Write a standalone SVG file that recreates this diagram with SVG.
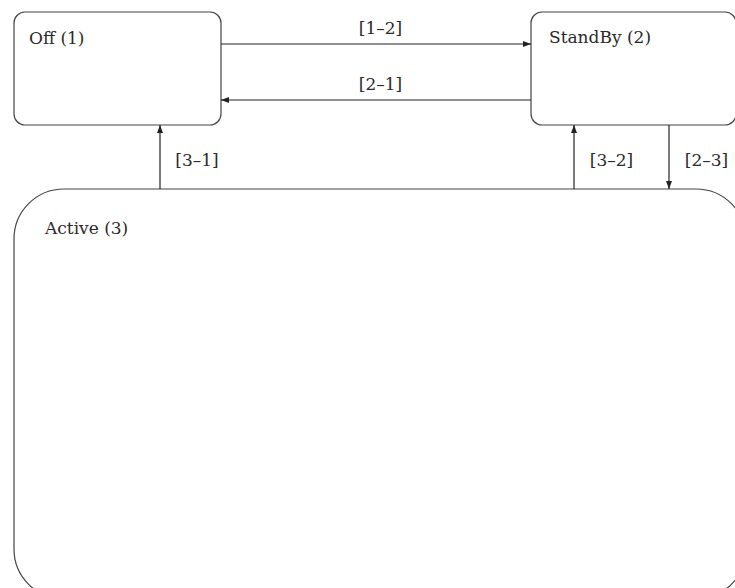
<svg xmlns="http://www.w3.org/2000/svg" width="735" height="588" viewBox="0 0 735 588">
<defs>
<style>
.node{fill:#fff;stroke:#444;stroke-width:1.2}
.lbl{font-family:"DejaVu Serif","Liberation Serif",serif;font-size:17px;fill:#2a2a2a}
.edge{stroke:#222;stroke-width:1.2;fill:none;marker-end:url(#ah)}
</style>
<marker id="ah" viewBox="0 0 8 6" refX="8" refY="3" markerWidth="8" markerHeight="6" markerUnits="userSpaceOnUse" orient="auto">
<path d="M0,0 L8,3 L0,6 z" fill="#222"/>
</marker>
</defs>
<rect width="735" height="588" fill="#fff"/>
<g id="active">
<rect class="node" x="14" y="189" width="732" height="410" rx="50" ry="50"/>
<text class="lbl" x="45" y="234">Active (3)</text>
</g>
<g id="off">
<rect class="node" x="14" y="12" width="207" height="113" rx="11" ry="11"/>
<text class="lbl" x="29" y="44">Off (1)</text>
</g>
<g id="standby">
<rect class="node" x="531" y="12" width="205" height="113" rx="11" ry="11"/>
<text class="lbl" x="549" y="43">StandBy (2)</text>
</g>
<g id="connectors">
<path class="edge" d="M221,44 H531"/>
<path class="edge" d="M531,100 H221"/>
<path class="edge" d="M160,189 V125"/>
<path class="edge" d="M574,189 V125"/>
<path class="edge" d="M669,125 V189"/>
<text class="lbl" x="380.5" y="34" text-anchor="middle">[1–2]</text>
<text class="lbl" x="380.5" y="90" text-anchor="middle">[2–1]</text>
<text class="lbl" x="197" y="166" text-anchor="middle">[3–1]</text>
<text class="lbl" x="611.5" y="166" text-anchor="middle">[3–2]</text>
<text class="lbl" x="706.5" y="166" text-anchor="middle">[2–3]</text>
</g>
</svg>
